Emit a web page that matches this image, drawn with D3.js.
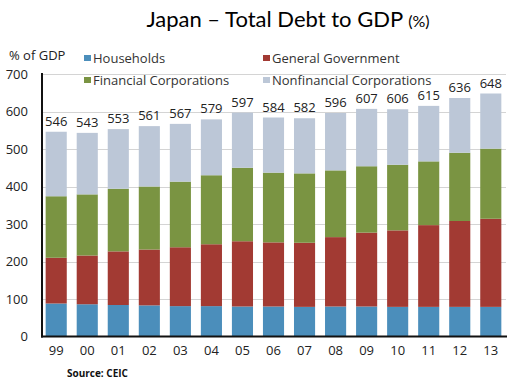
<!DOCTYPE html>
<head>
<meta charset="utf-8">
<style>
body {
  margin: 0;
  background: #fff;
}
svg {
  display: block;
  font-family: "Open Sans", "DejaVu Sans", sans-serif;
}
.title {
  font-family: "Lato", "Open Sans", sans-serif;
}
.grid line {
  stroke: #d4d4d4;
  stroke-width: 1;
}
.tick text {
  fill: #222;
}
</style>
</head>
<body>
<svg width="513" height="382"></svg>
<script src="https://d3js.org/d3.v7.min.js"></script>
<script>

// values (% of GDP)
var years = ["99","00","01","02","03","04","05","06","07","08","09","10","11","12","13"];
var households   = [88, 86, 84, 83, 81, 81, 80, 80, 79, 80, 80, 79, 79, 79, 79];
var government   = [122, 130, 143, 149, 157, 165, 174, 171, 171, 185, 197, 204, 218, 229, 235];
var financial    = [164, 163, 167, 168, 175, 184, 196, 186, 185, 178, 177, 175, 170, 182, 187];
var nonfinancial = [172, 164, 159, 161, 154, 149, 147, 147, 147, 153, 153, 148, 148, 146, 147];
var totals       = [546, 543, 553, 561, 567, 579, 597, 584, 582, 596, 607, 606, 615, 636, 648];
var yTicks = [0, 100, 200, 300, 400, 500, 600, 700];

var seriesNames = ["Households", "General Government", "Financial Corporations", "Nonfinancial Corporations"];
var seriesKeys = ["hh", "gov", "fin", "nonfin"];
var colors = ["#4b8ebb", "#a23a33", "#7a9442", "#bcc7d7"];

var rows = years.map(function(y, i) {
  return {year: y, hh: households[i], gov: government[i], fin: financial[i], nonfin: nonfinancial[i], total: totals[i]};
});

var svg = d3.select("svg");

var x = d3.scaleBand()
    .domain(years)
    .range([41, 506])
    .paddingInner(0.32)
    .paddingOuter(0.15);

var y = d3.scaleLinear()
    .domain([0, 700])
    .range([336.5, 74]);

// gridlines
svg.append("g")
    .attr("class", "grid")
  .selectAll("line")
  .data(yTicks.slice(1))
  .enter().append("line")
    .attr("x1", 42)
    .attr("x2", 506)
    .attr("y1", function(d) { return Math.round(y(d)) + 0.5; })
    .attr("y2", function(d) { return Math.round(y(d)) + 0.5; });

// stacked bars
var stack = d3.stack().keys(seriesKeys);
var layers = stack(rows);

svg.append("g")
  .selectAll("g")
  .data(layers)
  .enter().append("g")
    .attr("fill", function(d, i) { return colors[i]; })
  .selectAll("rect")
  .data(function(d) { return d; })
  .enter().append("rect")
    .attr("x", function(d) { return x(d.data.year); })
    .attr("width", x.bandwidth())
    .attr("y", function(d) { return y(d[1]); })
    .attr("height", function(d) { return y(d[0]) - y(d[1]); });

// total labels
svg.append("g")
  .selectAll("text")
  .data(rows)
  .enter().append("text")
    .attr("x", function(d) { return x(d.year) + x.bandwidth() / 2; })
    .attr("y", function(d) { return y(d.total) - 6; })
    .attr("text-anchor", "middle")
    .attr("font-size", 13)
    .attr("fill", "#222")
    .text(function(d) { return d.total; });

// axes
var yAxis = svg.append("g")
    .attr("transform", "translate(42,0)")
    .call(d3.axisLeft(y).tickValues(yTicks).tickSize(0).tickPadding(14));
yAxis.select(".domain").remove();
yAxis.selectAll("text").attr("font-size", 13).attr("font-family", "'Open Sans', sans-serif");

var xAxis = svg.append("g")
    .attr("transform", "translate(0,336.5)")
    .call(d3.axisBottom(x).tickSize(0).tickPadding(9));
xAxis.select(".domain").remove();
xAxis.selectAll("text").attr("font-size", 13).attr("font-family", "'Open Sans', sans-serif");

svg.append("line")
    .attr("x1", 42).attr("x2", 42)
    .attr("y1", 73).attr("y2", 337.5)
    .attr("stroke", "#111").attr("stroke-width", 2);
svg.append("line")
    .attr("x1", 41).attr("x2", 507)
    .attr("y1", 336.5).attr("y2", 336.5)
    .attr("stroke", "#111").attr("stroke-width", 2);

// legend, two columns over the plot
var legend = svg.append("g")
  .selectAll("g")
  .data(seriesNames)
  .enter().append("g")
    .attr("transform", function(d, i) {
      return "translate(" + (i % 2 === 0 ? 84 : 263) + "," + (i < 2 ? 58 : 80) + ")";
    });
legend.append("rect")
    .attr("x", 0).attr("y", -3)
    .attr("width", 7).attr("height", 6)
    .attr("fill", function(d, i) { return colors[i]; });
legend.append("text")
    .attr("x", 9)
    .attr("dy", "0.35em")
    .attr("font-size", 13)
    .attr("fill", "#333")
    .text(function(d) { return d; });

svg.append("text")
    .attr("x", 9).attr("y", 55)
    .attr("dy", "0.35em")
    .attr("font-size", 13)
    .attr("fill", "#222")
    .text("% of GDP");

// title
var title = svg.append("text")
    .attr("class", "title")
    .attr("x", 288).attr("y", 27)
    .attr("text-anchor", "middle")
    .attr("fill", "#000");
title.append("tspan").attr("font-size", 22).text("Japan \u2013 Total Debt to GDP ");
title.append("tspan").attr("font-size", 16).text("(%)");

svg.append("text")
    .attr("x", 67).attr("y", 377)
    .attr("font-size", 10)
    .attr("font-weight", "bold")
    .attr("fill", "#111")
    .text("Source:  CEIC");

</script>
</body>
